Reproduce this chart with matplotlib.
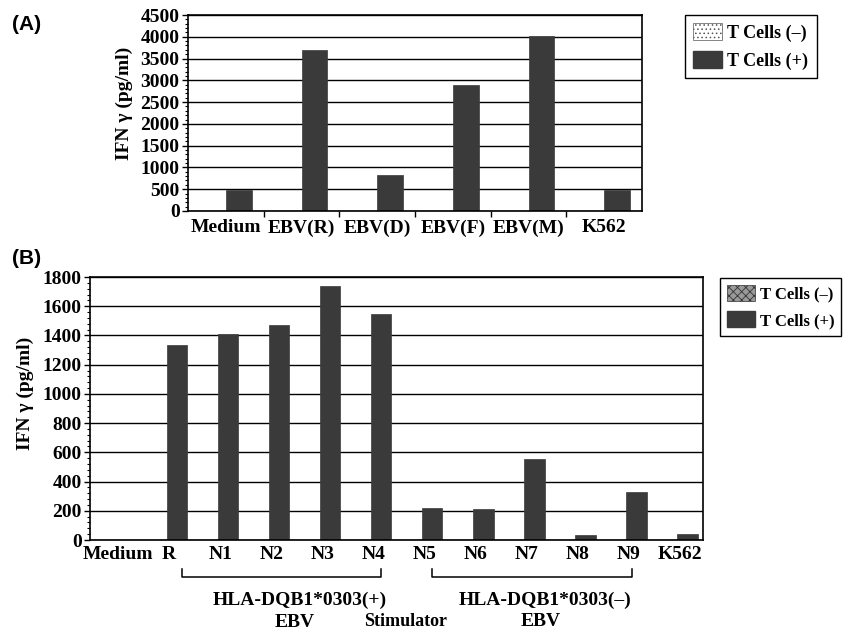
import numpy as np
import matplotlib
matplotlib.use('Agg')
from matplotlib import pyplot as plt
from matplotlib.patches import Patch
from matplotlib.transforms import blended_transform_factory
from matplotlib.ticker import MultipleLocator

# panel A
cats_a = ['Medium', 'EBV(R)', 'EBV(D)', 'EBV(F)', 'EBV(M)', 'K562']
neg_a = [0, 0, 0, 0, 0, 0]
pos_a = [490, 3700, 830, 2900, 4020, 490]

# panel B
cats_b = ['Medium', 'R', 'N1', 'N2', 'N3', 'N4', 'N5', 'N6', 'N7', 'N8', 'N9', 'K562']
neg_b = [0] * 12
pos_b = [0, 1335, 1410, 1472, 1735, 1548, 221, 214, 555, 32, 331, 41]

legend_labels = ['T Cells (\u2013)', 'T Cells (+)']

plt.rcParams['font.family'] = ['Liberation Serif', 'DejaVu Serif']
plt.rcParams['font.weight'] = 'bold'
plt.rcParams['hatch.linewidth'] = 0.6

dark = '#3a3a3a'

fig = plt.figure(figsize=(8.45, 6.33), dpi=100)

def style_axes(ax, ymax, major, minor):
    ax.set_ylim(0, ymax)
    ax.yaxis.set_major_locator(MultipleLocator(major))
    ax.yaxis.set_minor_locator(MultipleLocator(minor))
    ax.grid(axis='y', color='black', lw=1.0)
    ax.set_axisbelow(True)
    for s in ax.spines.values():
        s.set_linewidth(1.2)
    ax.tick_params(axis='y', which='major', length=4, width=1, labelsize=14, pad=2)
    ax.tick_params(axis='y', which='minor', length=2.5, width=0.8)
    for lab in ax.get_yticklabels():
        lab.set_fontweight('bold')


# ---- (A)
axA = fig.add_axes([0.2225, 0.6667, 0.5373, 0.3096])
xa = np.arange(len(cats_a))
wa = 0.34
axA.bar(xa - wa / 2, neg_a, wa, facecolor='white', edgecolor='#555555', hatch='....', lw=0.5)
axA.bar(xa + wa / 2, pos_a, wa, facecolor=dark, edgecolor=dark, lw=0.5)
axA.set_xlim(-0.5, len(cats_a) - 0.5)
style_axes(axA, 4500, 500, 100)
axA.set_xticks(xa)
axA.set_xticklabels(cats_a, fontsize=14, fontweight='bold')
axA.tick_params(axis='x', which='major', length=0, pad=6)
axA.set_xticks(xa[:-1] + 0.5, minor=True)
axA.tick_params(axis='x', which='minor', length=4, width=1)
fig.text(0.147, 0.836, 'IFN \u03b3 (pg/ml)', rotation=90, ha='center', va='center',
         fontsize=14, fontweight='bold')
fig.text(0.032, 0.962, '(A)', family='Liberation Sans', fontsize=15, fontweight='bold',
         ha='center', va='center')
hA = [Patch(facecolor='white', edgecolor='#555555', hatch='....', lw=0.5),
      Patch(facecolor=dark, edgecolor=dark)]
fig.legend(hA, legend_labels, loc='upper left', bbox_to_anchor=(685 / 845, 1 - 15 / 633),
           fancybox=False, edgecolor='black', framealpha=1, fontsize=13,
           handlelength=1.6, handleheight=1.1, borderpad=0.45, labelspacing=0.5,
           handletextpad=0.3, borderaxespad=0)

# ---- (B)
axB = fig.add_axes([0.1065, 0.1469, 0.7255, 0.4155])
xb = np.arange(len(cats_b))
wb = 0.4
axB.bar(xb - wb / 2, neg_b, wb, facecolor='#999999', edgecolor='#333333', hatch='xxxx', lw=0.5)
axB.bar(xb + wb / 2, pos_b, wb, facecolor=dark, edgecolor=dark, lw=0.5)
axB.set_xlim(-0.5, len(cats_b) - 0.5)
style_axes(axB, 1800, 200, 40)
axB.set_xticks(xb + 0.05)
axB.set_xticklabels(cats_b, fontsize=14, fontweight='bold')
axB.tick_params(axis='x', length=0, pad=4)
fig.text(0.03, 0.378, 'IFN \u03b3 (pg/ml)', rotation=90, ha='center', va='center',
         fontsize=14, fontweight='bold')
fig.text(0.031, 0.591, '(B)', family='Liberation Sans', fontsize=15, fontweight='bold',
         ha='center', va='center')
hB = [Patch(facecolor='#999999', edgecolor='#333333', hatch='xxxx', lw=0.5),
      Patch(facecolor=dark, edgecolor=dark)]
fig.legend(hB, legend_labels, loc='upper left', bbox_to_anchor=(720 / 845, 1 - 278 / 633),
           fancybox=False, edgecolor='black', framealpha=1, fontsize=12,
           handlelength=1.7, handleheight=1.1, borderpad=0.4, labelspacing=0.55,
           handletextpad=0.3, borderaxespad=0)

# brackets and group labels under panel B
tr = blended_transform_factory(axB.transData, axB.transAxes)
trf = blended_transform_factory(axB.transData, fig.transFigure)
for x0, x1 in [(1.3, 5.2), (6.2, 10.1)]:
    axB.plot([x0, x0, x1, x1], [-0.11, -0.141, -0.141, -0.11], color='black', lw=1.1,
             transform=tr, clip_on=False)

fig.text(3.6, 0.052, 'HLA-DQB1*0303(+)', transform=trf, ha='center', va='center',
         fontsize=14, fontweight='bold')
fig.text(3.5, 0.016, 'EBV', transform=trf, ha='center', va='center', fontsize=14, fontweight='bold')
fig.text(8.4, 0.052, 'HLA-DQB1*0303(\u2013)', transform=trf, ha='center', va='center',
         fontsize=14, fontweight='bold')
fig.text(8.33, 0.018, 'EBV', transform=trf, ha='center', va='center', fontsize=14, fontweight='bold')
fig.text(5.68, 0.005, 'Stimulator', transform=trf, ha='center', va='bottom',
         fontsize=13, fontweight='bold')

fig.savefig('out.png', dpi=100)
